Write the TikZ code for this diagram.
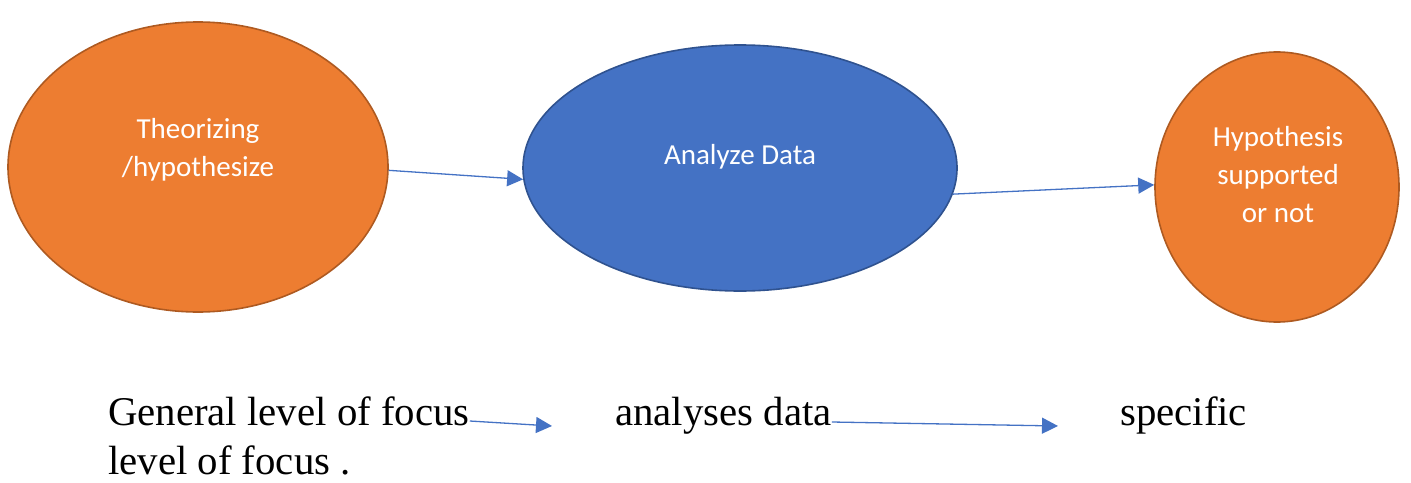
\documentclass[tikz,border=0pt]{standalone}
\usepackage{fontspec}
\setmainfont{Liberation Serif}
\newfontfamily\calib{Carlito}
\usetikzlibrary{shapes.geometric,arrows.meta}
\definecolor{orfill}{HTML}{ED7D31}
\definecolor{ordraw}{HTML}{AE5A21}
\definecolor{blfill}{HTML}{4472C4}
\definecolor{bldraw}{HTML}{2F528F}
\definecolor{arr}{HTML}{4472C4}
\tikzset{
  orbub/.style={ellipse, fill=orfill, draw=ordraw, line width=1.6pt, inner sep=0pt},
  blbub/.style={ellipse, fill=blfill, draw=bldraw, line width=1.6pt, inner sep=0pt},
  inlbl/.style={text=white, font=\calib\fontsize{29}{38}\selectfont, align=center, inner sep=0pt},
  foot/.style={font=\fontsize{40.8}{46}\selectfont, inner sep=0pt, anchor=base west},
  link/.style={draw=arr, line width=1.3pt, -{Triangle[length=16pt,width=16pt]}}
}
\begin{document}
\begin{tikzpicture}[x=1pt,y=-1pt]
\useasboundingbox (0,0) rectangle (1411,482);
% the three stages
\node[orbub, minimum width=380pt, minimum height=290pt] (e1) at (198,167) {};
\node[blbub, minimum width=434pt, minimum height=246pt] (e2) at (740,168) {};
\node[orbub, minimum width=244pt, minimum height=270pt] (e3) at (1277,187) {};
\node[inlbl] (t1) at (198,150) {Theorizing\\/hypothesize};
\node[inlbl] (t2) at (740,157) {Analyze Data};
\node[inlbl] (t3) at (1278,175) {Hypothesis\\supported\\or not};
% connectors between stages
\draw[link] (e1.-1) -- (e2.183);
\draw[link] (e2.-7) -- (e3.179);
% caption line underneath
\node[foot] (g1) at (108,425) {General level of focus};
\node[foot] (a1) at (615,425) {analyses data};
\node[foot] (s1) at (1120,425) {specific};
\node[foot] (l2) at (108,474) {level of focus .};
\coordinate (c1) at (552,426);
\coordinate (c2) at (1058,426);
\draw[link] ([yshift=4pt]g1.base east) -- (c1);
\draw[link] ([yshift=3pt]a1.base east) -- (c2);
\end{tikzpicture}
\end{document}
